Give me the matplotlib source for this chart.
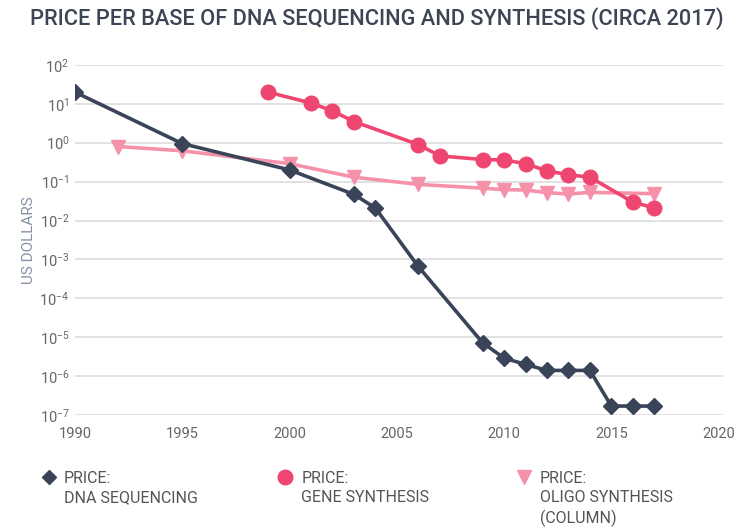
import math

import matplotlib.pyplot as plt
from matplotlib.lines import Line2D
from matplotlib.ticker import FixedLocator, FuncFormatter, NullLocator

plt.rcParams["font.family"] = ["Roboto", "DejaVu Sans"]
plt.rcParams["mathtext.fontset"] = "custom"
plt.rcParams["mathtext.rm"] = "Roboto"
plt.rcParams["mathtext.it"] = "Roboto"

seq_years = [1990, 1995, 2000, 2003, 2004, 2006, 2009, 2010, 2011, 2012, 2013, 2014, 2015, 2016, 2017]
seq_price = [20, 0.95, 0.2, 0.047, 0.021, 6.6e-4, 7.2e-6, 2.9e-6, 2.0e-6, 1.4e-6, 1.4e-6, 1.4e-6, 1.7e-7, 1.7e-7, 1.7e-7]

gene_years = [1999, 2001, 2002, 2003, 2006, 2007, 2009, 2010, 2011, 2012, 2013, 2014, 2016, 2017]
gene_price = [20, 10.5, 6.6, 3.5, 0.9, 0.46, 0.37, 0.36, 0.29, 0.19, 0.15, 0.13, 0.03, 0.021]

oligo_years = [1992, 1995, 2000, 2003, 2006, 2009, 2010, 2011, 2012, 2013, 2014, 2017]
oligo_price = [0.8, 0.62, 0.29, 0.13, 0.085, 0.068, 0.062, 0.061, 0.052, 0.048, 0.053, 0.049]

x_ticks = [1990, 1995, 2000, 2005, 2010, 2015, 2020]
y_exponents = [-7, -6, -5, -4, -3, -2, -1, 0, 1, 2]

dark = "#3a4459"
red = "#ee4670"
pink = "#f592aa"

fig = plt.figure(figsize=(7.53, 5.28), dpi=100)
ax = fig.add_axes([0.0996, 0.214, 0.8604, 0.663])

ax.plot(oligo_years, oligo_price, color=pink, lw=2.6, marker="v", ms=10, zorder=3)
ax.plot(seq_years, seq_price, color=dark, lw=2.6, marker="D", ms=8.5, zorder=4)
ax.plot(gene_years, gene_price, color=red, lw=2.6, marker="o", ms=10.5, zorder=5)

ax.set_yscale("log")
ax.set_ylim(1e-7, 1e2)
ax.set_xlim(1990, 2020.2)

ax.yaxis.set_major_locator(FixedLocator([10.0 ** e for e in y_exponents]))
ax.yaxis.set_minor_locator(NullLocator())
ax.yaxis.set_major_formatter(
    FuncFormatter(lambda v, p: r"$\mathregular{10^{%d}}$" % round(math.log10(v)))
)
ax.set_xticks(x_ticks)

for s in ax.spines.values():
    s.set_visible(False)
ax.grid(axis="y", color="#dddddd", lw=1.2)
ax.set_axisbelow(True)
ax.tick_params(length=0, labelsize=10.5, labelcolor="#666666")
ax.tick_params(axis="y", pad=4)
ax.tick_params(axis="x", pad=8.5)

ax.set_ylabel("US DOLLARS", fontsize=11, color="#8591a5")
ax.yaxis.set_label_coords(-0.060, 0.5)

fig.text(0.04, 0.964, "PRICE PER BASE OF DNA SEQUENCING AND SYNTHESIS (CIRCA 2017)",
         fontsize=15.7, fontweight="medium", color="#3d4555", va="center")

# legend: marker x, text x, marker, colour, size, label
legend_items = [
    (0.065, 0.085, "D", dark, 7.5, "PRICE:\nDNA SEQUENCING"),
    (0.3785, 0.400, "o", red, 10.5, "PRICE:\nGENE SYNTHESIS"),
    (0.696, 0.717, "v", pink, 10, "PRICE:\nOLIGO SYNTHESIS\n(COLUMN)"),
]
for mx, tx, m, c, ms, label in legend_items:
    fig.add_artist(Line2D([mx], [0.0966], transform=fig.transFigure,
                          marker=m, color=c, ms=ms, ls="none"))
    fig.text(tx, 0.108, label, fontsize=11.5, color="#555555",
             va="top", linespacing=1.33)

fig.savefig("out.png", dpi=100)
